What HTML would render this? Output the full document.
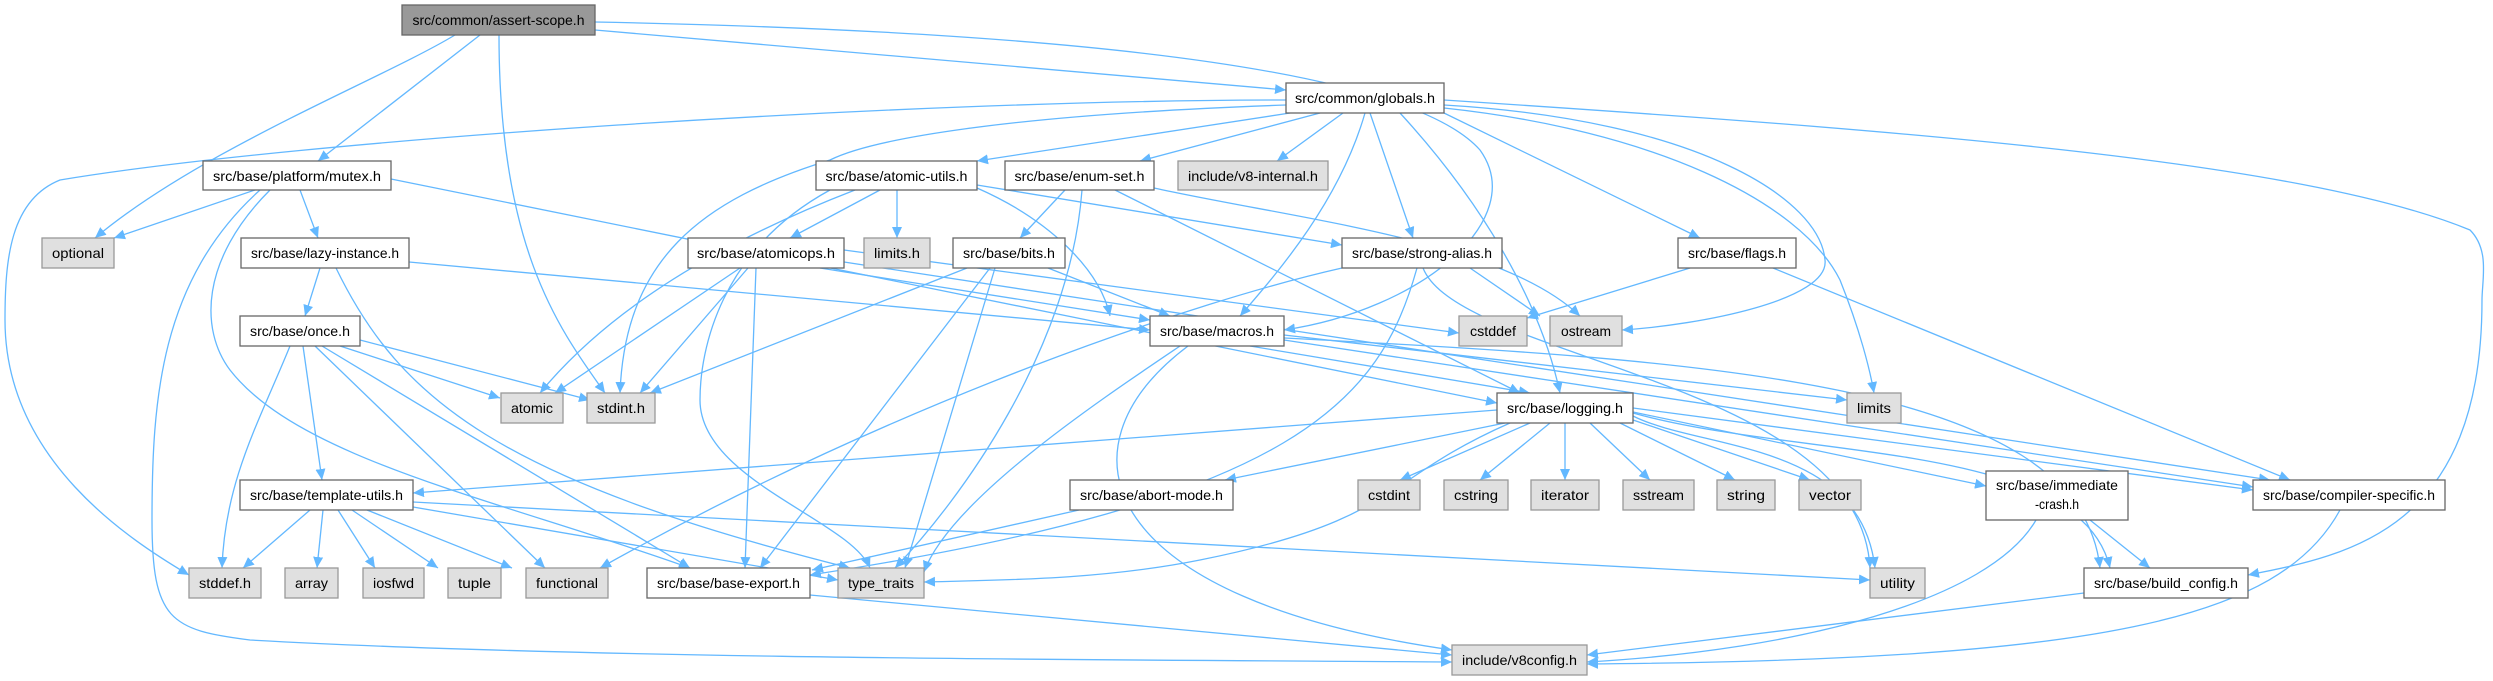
<!DOCTYPE html>
<html><head><meta charset="utf-8"><style>
html,body{margin:0;padding:0;background:#fff;}
svg{display:block;}
text{font-family:"Liberation Sans",sans-serif;font-size:14px;fill:#000;}
.e{stroke:#63b8ff;stroke-width:1.3;fill:none;marker-end:url(#a);}
.w{fill:#fff;stroke:#666;stroke-width:1.3;}
.g{fill:#e0e0e0;stroke:#999;stroke-width:1.3;}
.r{fill:#999;stroke:#666;stroke-width:1.3;}
</style></head><body>
<svg width="2493" height="681" viewBox="0 0 2493 681" xmlns="http://www.w3.org/2000/svg">
<defs><marker id="a" markerUnits="userSpaceOnUse" markerWidth="12" markerHeight="10" refX="11" refY="5" orient="auto"><path d="M0,0 L11,5 L0,10 z" fill="#63b8ff"/></marker></defs>
<g>
<path class="e" d="M455,35 C380,80 200,150 95,238"/>
<path class="e" d="M480,35 L318,161"/>
<path class="e" d="M499,35 C499,250 560,330 605,393"/>
<path class="e" d="M595,30 L1286,90"/>
<path class="e" d="M595,22 C1000,30 1400,60 1480,150 C1530,220 1420,310 1284,330"/>
<path class="e" d="M1286,100 C900,100 300,140 60,180 C10,200 5,260 5,320 C5,460 130,540 189,575"/>
<path class="e" d="M1290,113 L977,161"/>
<path class="e" d="M1320,113 L1140,161"/>
<path class="e" d="M1343,113 L1277,161"/>
<path class="e" d="M1365,113 C1340,200 1280,270 1240,316"/>
<path class="e" d="M1370,113 L1413,238"/>
<path class="e" d="M1286,105 C1000,115 870,140 830,160 C700,200 625,260 620,393"/>
<path class="e" d="M1444,113 L1700,238"/>
<path class="e" d="M1400,113 C1480,200 1540,300 1560,393"/>
<path class="e" d="M1444,105 C1700,120 1820,200 1825,260 C1830,300 1700,325 1622,330"/>
<path class="e" d="M1444,108 C1650,130 1800,200 1840,280 C1860,330 1870,370 1874,393"/>
<path class="e" d="M1444,100 C1900,130 2300,160 2470,230 C2490,250 2482,280 2482,300 C2482,530 2350,555 2248,575"/>
<path class="e" d="M255,190 L114,238"/>
<path class="e" d="M300,190 L318,238"/>
<path class="e" d="M270,190 C200,260 200,330 230,370 C300,460 500,500 690,568"/>
<path class="e" d="M260,190 C160,280 152,400 152,520 C152,620 170,630 250,640 C600,660 1200,660 1452,662"/>
<path class="e" d="M391,179 L1497,403"/>
<path class="e" d="M320,268 L305,316"/>
<path class="e" d="M336,268 C400,400 500,480 850,568"/>
<path class="e" d="M409,262 L1150,330"/>
<path class="e" d="M290,346 C260,420 225,480 222,568"/>
<path class="e" d="M303,346 L322,480"/>
<path class="e" d="M315,346 L545,568"/>
<path class="e" d="M322,346 L690,568"/>
<path class="e" d="M340,346 L500,398"/>
<path class="e" d="M360,340 L590,400"/>
<path class="e" d="M310,510 L243,568"/>
<path class="e" d="M323,510 L317,568"/>
<path class="e" d="M338,510 L375,568"/>
<path class="e" d="M352,510 L438,568"/>
<path class="e" d="M367,510 L512,568"/>
<path class="e" d="M413,507 L838,580"/>
<path class="e" d="M413,502 L1870,580"/>
<path class="e" d="M855,190 C700,250 600,320 540,393"/>
<path class="e" d="M897,190 L897,238"/>
<path class="e" d="M880,190 L790,238"/>
<path class="e" d="M977,188 C1050,220 1100,270 1110,316"/>
<path class="e" d="M977,185 L1342,245"/>
<path class="e" d="M830,190 C720,250 700,350 700,400 C700,480 850,520 870,568"/>
<path class="e" d="M740,268 L555,393"/>
<path class="e" d="M748,268 L640,393"/>
<path class="e" d="M756,268 L745,568"/>
<path class="e" d="M820,268 L1150,320"/>
<path class="e" d="M844,250 L1459,333"/>
<path class="e" d="M844,262 L2270,480"/>
<path class="e" d="M1065,190 L1020,238"/>
<path class="e" d="M1082,190 C1070,350 960,500 895,568"/>
<path class="e" d="M1115,190 L1520,393"/>
<path class="e" d="M1154,188 C1300,220 1500,240 1580,316"/>
<path class="e" d="M967,268 L650,393"/>
<path class="e" d="M990,268 L760,568"/>
<path class="e" d="M995,268 L905,568"/>
<path class="e" d="M1048,268 L1170,316"/>
<path class="e" d="M1342,268 C1200,300 900,400 600,568"/>
<path class="e" d="M1417,268 C1380,400 1300,500 810,575"/>
<path class="e" d="M1423,268 C1460,360 1860,380 1870,568"/>
<path class="e" d="M1470,268 L1540,316"/>
<path class="e" d="M1690,268 L1527,318"/>
<path class="e" d="M1773,268 L2290,480"/>
<path class="e" d="M1250,346 L1530,393"/>
<path class="e" d="M1180,346 C1100,400 950,500 924,572"/>
<path class="e" d="M1188,346 C1050,450 1100,600 1452,650"/>
<path class="e" d="M1284,335 L1847,400"/>
<path class="e" d="M1284,340 L2253,487"/>
<path class="e" d="M1284,338 C1700,360 2080,380 2100,568"/>
<path class="e" d="M1497,410 L413,493"/>
<path class="e" d="M1505,423 L1225,480"/>
<path class="e" d="M1510,423 C1380,480 1400,520 1200,560 C1100,580 1000,580 924,582"/>
<path class="e" d="M1530,423 L1400,480"/>
<path class="e" d="M1550,423 L1480,480"/>
<path class="e" d="M1565,423 L1565,480"/>
<path class="e" d="M1590,423 L1650,480"/>
<path class="e" d="M1620,423 L1735,480"/>
<path class="e" d="M1633,420 L1810,480"/>
<path class="e" d="M1633,416 C1700,450 1860,440 1875,568"/>
<path class="e" d="M1633,412 L1986,486"/>
<path class="e" d="M1633,408 L2253,490"/>
<path class="e" d="M1633,413 C1800,460 2080,440 2110,568"/>
<path class="e" d="M1079,510 L812,570"/>
<path class="e" d="M810,595 L1452,655"/>
<path class="e" d="M2036,520 C1990,600 1800,650 1587,662"/>
<path class="e" d="M2090,520 L2150,568"/>
<path class="e" d="M2084,593 L1587,655"/>
<path class="e" d="M2340,510 C2280,620 2100,660 1587,664"/>
</g>
<g text-anchor="middle">
<rect class="r" x="402" y="5" width="193" height="30"/><text x="498.5" y="25" textLength="172" lengthAdjust="spacingAndGlyphs">src/common/assert-scope.h</text>
<rect class="w" x="1286" y="83" width="158" height="30"/><text x="1365" y="103" textLength="140" lengthAdjust="spacingAndGlyphs">src/common/globals.h</text>
<rect class="w" x="203" y="161" width="188" height="29"/><text x="297" y="181" textLength="168" lengthAdjust="spacingAndGlyphs">src/base/platform/mutex.h</text>
<rect class="w" x="816" y="161" width="161" height="29"/><text x="896.5" y="181" textLength="142" lengthAdjust="spacingAndGlyphs">src/base/atomic-utils.h</text>
<rect class="w" x="1005" y="161" width="149" height="29"/><text x="1079.5" y="181" textLength="130" lengthAdjust="spacingAndGlyphs">src/base/enum-set.h</text>
<rect class="g" x="1178" y="161" width="150" height="29"/><text x="1253" y="181" textLength="130" lengthAdjust="spacingAndGlyphs">include/v8-internal.h</text>
<rect class="g" x="42" y="238" width="72" height="30"/><text x="78" y="258" textLength="52" lengthAdjust="spacingAndGlyphs">optional</text>
<rect class="w" x="241" y="238" width="168" height="30"/><text x="325" y="258" textLength="148" lengthAdjust="spacingAndGlyphs">src/base/lazy-instance.h</text>
<rect class="w" x="688" y="238" width="156" height="30"/><text x="766" y="258" textLength="138" lengthAdjust="spacingAndGlyphs">src/base/atomicops.h</text>
<rect class="g" x="864" y="238" width="66" height="30"/><text x="897" y="258" textLength="46" lengthAdjust="spacingAndGlyphs">limits.h</text>
<rect class="w" x="953" y="238" width="112" height="30"/><text x="1009" y="258" textLength="92" lengthAdjust="spacingAndGlyphs">src/base/bits.h</text>
<rect class="w" x="1342" y="238" width="160" height="30"/><text x="1422" y="258" textLength="140" lengthAdjust="spacingAndGlyphs">src/base/strong-alias.h</text>
<rect class="w" x="1678" y="238" width="118" height="30"/><text x="1737" y="258" textLength="98" lengthAdjust="spacingAndGlyphs">src/base/flags.h</text>
<rect class="w" x="240" y="316" width="120" height="30"/><text x="300" y="336" textLength="100" lengthAdjust="spacingAndGlyphs">src/base/once.h</text>
<rect class="w" x="1150" y="316" width="134" height="30"/><text x="1217" y="336" textLength="114" lengthAdjust="spacingAndGlyphs">src/base/macros.h</text>
<rect class="g" x="1459" y="316" width="68" height="30"/><text x="1493" y="336" textLength="46" lengthAdjust="spacingAndGlyphs">cstddef</text>
<rect class="g" x="1550" y="316" width="72" height="30"/><text x="1586" y="336" textLength="50" lengthAdjust="spacingAndGlyphs">ostream</text>
<rect class="g" x="501" y="393" width="62" height="30"/><text x="532" y="413" textLength="42" lengthAdjust="spacingAndGlyphs">atomic</text>
<rect class="g" x="587" y="393" width="68" height="30"/><text x="621" y="413" textLength="48" lengthAdjust="spacingAndGlyphs">stdint.h</text>
<rect class="w" x="1497" y="393" width="136" height="30"/><text x="1565" y="413" textLength="116" lengthAdjust="spacingAndGlyphs">src/base/logging.h</text>
<rect class="g" x="1847" y="393" width="54" height="30"/><text x="1874" y="413" textLength="34" lengthAdjust="spacingAndGlyphs">limits</text>
<rect class="w" x="240" y="480" width="173" height="30"/><text x="326.5" y="500" textLength="153" lengthAdjust="spacingAndGlyphs">src/base/template-utils.h</text>
<rect class="w" x="1070" y="480" width="163" height="30"/><text x="1151.5" y="500" textLength="143" lengthAdjust="spacingAndGlyphs">src/base/abort-mode.h</text>
<rect class="g" x="1358" y="480" width="62" height="30"/><text x="1389" y="500" textLength="42" lengthAdjust="spacingAndGlyphs">cstdint</text>
<rect class="g" x="1444" y="480" width="64" height="30"/><text x="1476" y="500" textLength="44" lengthAdjust="spacingAndGlyphs">cstring</text>
<rect class="g" x="1531" y="480" width="68" height="30"/><text x="1565" y="500" textLength="48" lengthAdjust="spacingAndGlyphs">iterator</text>
<rect class="g" x="1623" y="480" width="71" height="30"/><text x="1658.5" y="500" textLength="51" lengthAdjust="spacingAndGlyphs">sstream</text>
<rect class="g" x="1717" y="480" width="58" height="30"/><text x="1746" y="500" textLength="38" lengthAdjust="spacingAndGlyphs">string</text>
<rect class="g" x="1799" y="480" width="62" height="30"/><text x="1830" y="500" textLength="42" lengthAdjust="spacingAndGlyphs">vector</text>
<rect class="w" x="1986" y="471" width="142" height="49"/><text x="2057" y="490" textLength="122" lengthAdjust="spacingAndGlyphs">src/base/immediate</text><text x="2057" y="509" textLength="44" lengthAdjust="spacingAndGlyphs">-crash.h</text>
<rect class="w" x="2253" y="480" width="192" height="30"/><text x="2349" y="500" textLength="172" lengthAdjust="spacingAndGlyphs">src/base/compiler-specific.h</text>
<rect class="g" x="189" y="568" width="72" height="30"/><text x="225" y="588" textLength="52" lengthAdjust="spacingAndGlyphs">stddef.h</text>
<rect class="g" x="285" y="568" width="53" height="30"/><text x="311.5" y="588" textLength="33" lengthAdjust="spacingAndGlyphs">array</text>
<rect class="g" x="363" y="568" width="61" height="30"/><text x="393.5" y="588" textLength="41" lengthAdjust="spacingAndGlyphs">iosfwd</text>
<rect class="g" x="448" y="568" width="53" height="30"/><text x="474.5" y="588" textLength="33" lengthAdjust="spacingAndGlyphs">tuple</text>
<rect class="g" x="526" y="568" width="82" height="30"/><text x="567" y="588" textLength="62" lengthAdjust="spacingAndGlyphs">functional</text>
<rect class="w" x="647" y="568" width="163" height="30"/><text x="728.5" y="588" textLength="143" lengthAdjust="spacingAndGlyphs">src/base/base-export.h</text>
<rect class="g" x="838" y="568" width="86" height="30"/><text x="881" y="588" textLength="66" lengthAdjust="spacingAndGlyphs">type_traits</text>
<rect class="g" x="1870" y="568" width="55" height="30"/><text x="1897.5" y="588" textLength="35" lengthAdjust="spacingAndGlyphs">utility</text>
<rect class="w" x="2084" y="568" width="164" height="30"/><text x="2166" y="588" textLength="144" lengthAdjust="spacingAndGlyphs">src/base/build_config.h</text>
<rect class="g" x="1452" y="645" width="135" height="30"/><text x="1519.5" y="665" textLength="115" lengthAdjust="spacingAndGlyphs">include/v8config.h</text>
</g>
</svg>
</body></html>
